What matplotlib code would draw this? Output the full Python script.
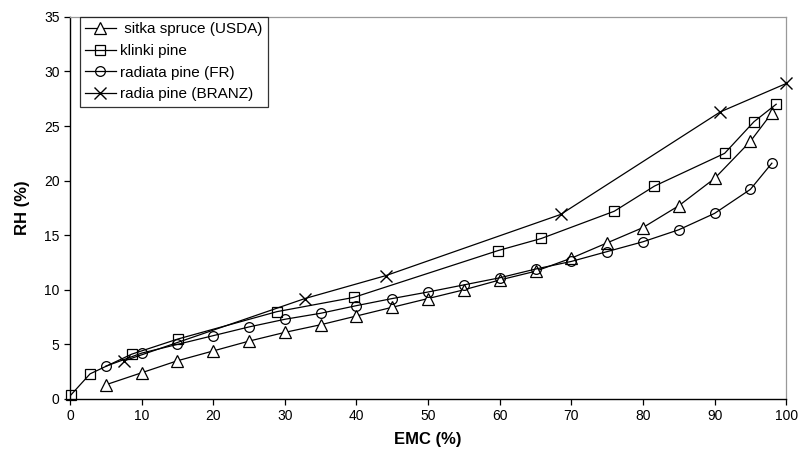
import matplotlib
matplotlib.use("Agg")
import matplotlib.pyplot as plt

plt.rcParams['font.family'] = ['Liberation Sans', 'DejaVu Sans']

sitka_x = [5, 10, 15, 20, 25, 30, 35, 40, 45, 50, 55, 60, 65, 70, 75, 80, 85, 90, 95, 98]
sitka_y = [1.3, 2.4, 3.5, 4.4, 5.3, 6.1, 6.8, 7.6, 8.4, 9.2, 10.0, 10.9, 11.7, 12.9, 14.3, 15.7, 17.7, 20.2, 23.6, 26.2]

klinki_x = [0.1, 2.8, 8.6, 15.1, 28.9, 39.6, 59.8, 65.8, 76.0, 81.6, 91.4, 95.5, 98.6]
klinki_y = [0.35, 2.3, 4.1, 5.5, 8.0, 9.3, 13.6, 14.7, 17.2, 19.5, 22.5, 25.4, 27.0]

radiata_x = [5, 10, 15, 20, 25, 30, 35, 40, 45, 50, 55, 60, 65, 70, 75, 80, 85, 90, 95, 98]
radiata_y = [3.0, 4.2, 5.0, 5.8, 6.6, 7.3, 7.85, 8.55, 9.2, 9.8, 10.45, 11.1, 11.9, 12.6, 13.5, 14.4, 15.5, 17.0, 19.2, 21.6]

branz_x = [7.6, 32.8, 44.1, 68.5, 90.8, 100.0]
branz_y = [3.5, 9.2, 11.3, 16.9, 26.3, 28.9]

labels = [' sitka spruce (USDA)', 'klinki pine', 'radiata pine (FR)', 'radia pine (BRANZ)']

fig = plt.figure(figsize=(8.02, 4.57), dpi=100)
ax = fig.add_axes([0.0873, 0.127, 0.893, 0.836])

lw = 0.9
kw = dict(color='black', lw=lw, mec='black', clip_on=False, zorder=3)
ax.plot(sitka_x, sitka_y, marker='^', ms=8, mfc='white', mew=0.9, label=labels[0], **kw)
ax.plot(klinki_x, klinki_y, marker='s', ms=7, mfc='none', mew=0.9, label=labels[1], **kw)
ax.plot(radiata_x, radiata_y, marker='o', ms=7, mfc='none', mew=0.9, label=labels[2], **kw)
ax.plot(branz_x, branz_y, marker='x', ms=8, mew=1.0, label=labels[3], **kw)

ax.set_xlim(0, 100)
ax.set_ylim(0, 35)
ax.set_xticks(range(0, 101, 10))
ax.set_yticks(range(0, 36, 5))
ax.tick_params(direction='out', length=4, width=0.9, labelsize=10, colors='black')

for side in ['left', 'bottom']:
    ax.spines[side].set_color('black')
    ax.spines[side].set_linewidth(1.0)
for side in ['top', 'right']:
    ax.spines[side].set_color('#999999')
    ax.spines[side].set_linewidth(0.9)

ax.set_xlabel('EMC (%)', fontsize=12, fontweight='bold', labelpad=6)
ax.set_ylabel('RH (%)', fontsize=12, fontweight='bold', labelpad=10)

leg = ax.legend(loc='upper left', bbox_to_anchor=(0.0134, 1.0), fontsize=11, frameon=True,
                fancybox=False, edgecolor='black', borderpad=0.35, labelspacing=0.5,
                handlelength=2.0, handletextpad=0.3, borderaxespad=0.0)
leg.get_frame().set_linewidth(0.9)
leg.set_zorder(5)

fig.savefig('out.png', dpi=100, facecolor='white')
